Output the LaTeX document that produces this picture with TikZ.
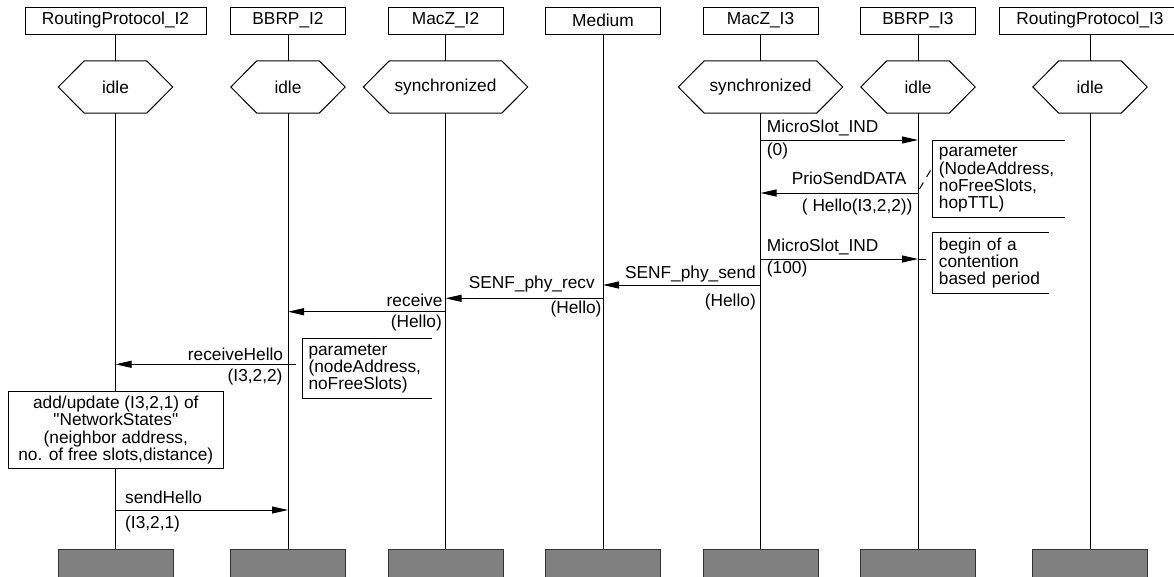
\documentclass[tikz,border=0pt]{standalone}
\usepackage{fontspec}
% plain family without the TeX quote mapping, so " stays a straight quote
\newfontfamily\diagfont{Liberation Sans}
\usetikzlibrary{arrows.meta}

\begin{document}
\begin{tikzpicture}[x=1pt,y=-1pt,
  every node/.style={font=\diagfont\fontsize{17.3}{17.3}\selectfont},
  hdr/.style={draw, line width=1pt, fill=white, inner sep=0pt,
    minimum width=115pt, minimum height=27pt},
  st/.style={inner sep=0pt, minimum height=52pt},
  endbox/.style={draw=black!80, fill=black!50, line width=1pt, inner sep=0pt,
    minimum width=115pt, minimum height=28pt},
  life/.style={line width=1pt},
  msg/.style={line width=1pt, -{Triangle[length=16pt,width=7pt]}},
  lbl/.style={inner sep=0pt},
  cmt/.style={inner xsep=6pt, inner ysep=0pt, align=left, anchor=north west},
  cmtlink/.style={line width=1pt, dash pattern=on 7.5pt off 6.5pt},
  act/.style={draw, fill=white, line width=1pt, align=center, inner sep=0pt,
    minimum width=215pt, minimum height=76.6pt}]

\useasboundingbox (0,0) rectangle (1174,576);

% instance headers
\node[hdr, minimum width=181pt] (h1) at (115.5,20.5) {RoutingProtocol\_I2};
\node[hdr] (h2) at (288,20.5)   {BBRP\_I2};
\node[hdr] (h3) at (445.5,20.5) {MacZ\_I2};
\node[hdr] (h4) at (603,20.5)   {Medium};
\node[hdr] (h5) at (760.5,20.5) {MacZ\_I3};
\node[hdr] (h6) at (918,20.5)   {BBRP\_I3};
\node[hdr, minimum width=181pt] (h7) at (1090,20.5) {RoutingProtocol\_I3};

% initial states
\node[st, minimum width=114pt] (s1) at (115.5,87) {idle};
\node[st, minimum width=114pt] (s2) at (288,87)   {idle};
\node[st, minimum width=164pt] (s3) at (445.5,87) {synchronized};
\node[st, minimum width=164pt] (s5) at (760.5,87) {synchronized};
\node[st, minimum width=114pt] (s6) at (918,87)   {idle};
\node[st, minimum width=114pt] (s7) at (1090,87)  {idle};
\foreach \i in {1,2,3,5,6,7}
  \draw[line width=1pt] (s\i.west) -- ([xshift=26pt]s\i.north west)
    -- ([xshift=-26pt]s\i.north east) -- (s\i.east)
    -- ([xshift=-26pt]s\i.south east) -- ([xshift=26pt]s\i.south west) -- cycle;

% instance ends
\node[endbox] (e1) at (115.5,563) {};
\node[endbox] (e2) at (288,563)   {};
\node[endbox] (e3) at (445.5,563) {};
\node[endbox] (e4) at (603,563)   {};
\node[endbox] (e5) at (760.5,563) {};
\node[endbox] (e6) at (918,563)   {};
\node[endbox] (e7) at (1090,563)  {};

% lifelines
\foreach \i in {1,2,3,5,6,7} {
  \draw[life] (h\i) -- (s\i);
  \draw[life] (s\i) -- (e\i);
}
\draw[life] (h4) -- (e4);

% action on RoutingProtocol_I2
\node[act] (a1) at (115.8,430) {add/update (I3,2,1) of\\"NetworkStates"\\(neighbor address,\\no. of free slots,distance)};

% comments
\node[cmt, text width=120.3pt, minimum height=77.3pt] (cm1) at (932.7,140)
  {parameter\\(NodeAddress,\\noFreeSlots,\\hopTTL)};
\node[cmt, text width=104.3pt, minimum height=60pt] (cm2) at (932.7,232.7)
  {begin of a\\contention\\based period};
\node[cmt, text width=117.4pt, minimum height=60pt] (cm3) at (302.3,338.3)
  {parameter\\(nodeAddress,\\noFreeSlots)};
\foreach \c in {cm1,cm2,cm3}
  \draw[line width=1pt] (\c.north east) -- (\c.north west) -- (\c.south west) -- (\c.south east);

% messages
\coordinate (m1a) at (760.5,140);   \coordinate (m1b) at (918,140);
\coordinate (m2a) at (918,193);     \coordinate (m2b) at (760.5,193);
\coordinate (m3a) at (760.5,259);   \coordinate (m3b) at (918,259);
\coordinate (m4a) at (760.5,285);   \coordinate (m4b) at (603,285);
\coordinate (m5a) at (603,298.3);   \coordinate (m5b) at (445.5,298.3);
\coordinate (m6a) at (445.5,311.7); \coordinate (m6b) at (288,311.7);
\coordinate (m7a) at (288,364.3);   \coordinate (m7b) at (115.5,364.3);
\coordinate (m8a) at (115.5,510);   \coordinate (m8b) at (288,510);
\foreach \i in {1,...,8}
  \draw[msg] (m\i a) -- (m\i b);

\node[lbl, anchor=west] (t1) at (766.7,128)   {MicroSlot\_IND};
\node[lbl, anchor=west] (p1) at (766.7,150.7) {(0)};
\node[lbl, anchor=east] (t2) at (906.7,178)   {PrioSendDATA};
\node[lbl, anchor=east] (p2) at (912.7,206.7) {( Hello(I3,2,2))};
\node[lbl, anchor=west] (t3) at (766.7,246.7) {MicroSlot\_IND};
\node[lbl, anchor=west] (p3) at (766.7,269.3) {(100)};
\node[lbl, anchor=east] (t4) at (756,274)     {SENF\_phy\_send};
\node[lbl, anchor=east] (p4) at (756,301.7)   {(Hello)};
\node[lbl, anchor=east] (t5) at (595,284)     {SENF\_phy\_recv};
\node[lbl, anchor=east] (p5) at (601.7,309)   {(Hello)};
\node[lbl, anchor=east] (t6) at (442.7,300.7) {receive};
\node[lbl, anchor=east] (p6) at (442,322.7)   {(Hello)};
\node[lbl, anchor=east] (t7) at (283.3,354)   {receiveHello};
\node[lbl, anchor=east] (p7) at (282.7,376.7) {(I3,2,2)};
\node[lbl, anchor=west] (t8) at (125,497.3)   {sendHello};
\node[lbl, anchor=west] (p8) at (125,524)     {(I3,2,1)};

% comment links
\coordinate (k1) at (919.5,189);
\draw[cmtlink] (k1) -- ([yshift=-26.7pt]cm1.north west);
\draw[cmtlink] (m3b) -- (m3b -| cm2.west);
\draw[cmtlink] (m7a) -- (m7a -| cm3.west);

\end{tikzpicture}
\end{document}
